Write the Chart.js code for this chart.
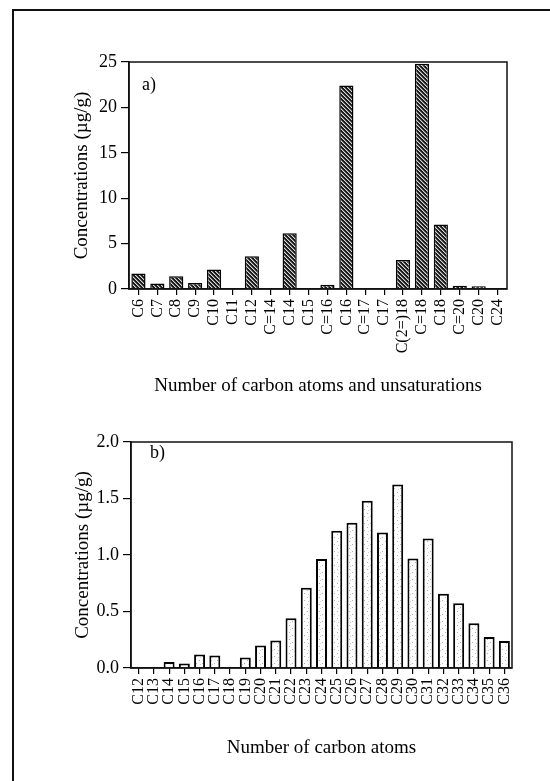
<!DOCTYPE html>
<html>
<head>
<meta charset="utf-8">
<script src="https://cdn.jsdelivr.net/npm/chart.js@4.4.1/dist/chart.umd.min.js"></script>
<style>
  body { margin: 0; background: #fff; }
  #page { position: relative; width: 550px; height: 781px; overflow: hidden; }
  #frame { position: absolute; left: 12px; top: 9px; width: 600px; height: 800px;
           border-left: 2px solid #111; border-top: 2px solid #111; }
  .box { position: absolute; left: 0; width: 550px; }
</style>
</head>
<body>
<div id="page">
  <div id="frame"></div>
  <div class="box" style="top:0;height:400px"><canvas id="chartA" width="550" height="400"></canvas></div>
  <div class="box" style="top:400px;height:381px"><canvas id="chartB" width="550" height="381"></canvas></div>
</div>
<script>
// panel a) fatty acids
const acidLabels = ['C6', 'C7', 'C8', 'C9', 'C10', 'C11', 'C12', 'C=14', 'C14', 'C15', 'C=16', 'C16',
                    'C=17', 'C17', 'C(2=)18', 'C=18', 'C18', 'C=20', 'C20', 'C24'];
const acidValues = [1.7, 0.6, 1.4, 0.65, 2.15, 0, 3.6, 0.1, 6.15, 0.05, 0.48, 22.4,
                    0, 0, 3.2, 24.8, 7.1, 0.35, 0.3, 0];
const acidTicks = [0, 5, 10, 15, 20, 25];

// panel b) n-alkanes
const alkaneLabels = ['C12', 'C13', 'C14', 'C15', 'C16', 'C17', 'C18', 'C19', 'C20', 'C21', 'C22', 'C23', 'C24',
                      'C25', 'C26', 'C27', 'C28', 'C29', 'C30', 'C31', 'C32', 'C33', 'C34', 'C35', 'C36'];
const alkaneValues = [0, 0, 0.053, 0.04, 0.12, 0.11, 0, 0.094, 0.2, 0.244, 0.44, 0.71, 0.965,
                      1.215, 1.285, 1.48, 1.2, 1.625, 0.968, 1.147, 0.656, 0.574, 0.397, 0.274, 0.238];
const alkaneTicks = [0.0, 0.5, 1.0, 1.5, 2.0];

const SERIF = "'Liberation Serif', 'Times New Roman', serif";
Chart.defaults.font.family = SERIF;
Chart.defaults.color = '#000';

function hatchPattern() {
    const c = document.createElement('canvas');
    c.width = 4; c.height = 4;
    const g = c.getContext('2d');
    g.fillStyle = '#1a1a1a';
    g.fillRect(0, 0, 4, 4);
    for (let i = 0; i < 4; i++) {
        g.fillStyle = '#d8d8d8';
        g.fillRect(i, i, 1, 1);
        g.fillStyle = '#666';
        g.fillRect((i + 1) % 4, i, 1, 1);
    }
    return g.createPattern(c, 'repeat');
}

function dotPattern() {
    const c = document.createElement('canvas');
    c.width = 6; c.height = 7;
    const g = c.getContext('2d');
    g.fillStyle = '#fff';
    g.fillRect(0, 0, 6, 7);
    g.fillStyle = '#b0b0b0';
    g.fillRect(1, 1, 1, 1);
    g.fillRect(4, 4, 1, 1);
    g.fillStyle = '#d0d0d0';
    g.fillRect(2, 5, 1, 1);
    return g.createPattern(c, 'repeat');
}

// closes the box round the plot and writes the panel letter
const panelBox = {
    id: 'panelBox',
    afterDraw(chart, args, opts) {
        const { ctx, chartArea: a } = chart;
        ctx.save();
        ctx.strokeStyle = '#111';
        ctx.lineWidth = 1.5;
        ctx.strokeRect(a.left, a.top, a.right - a.left, a.bottom - a.top);
        ctx.font = '18px ' + SERIF;
        ctx.fillStyle = '#000';
        ctx.textBaseline = 'top';
        ctx.fillText(opts.tag, a.left + opts.dx, a.top + opts.dy);
        ctx.restore();
    }
};

function makePanel(id, cfg) {
    const step = cfg.ticks[1] - cfg.ticks[0];
    return new Chart(document.getElementById(id), {
        type: 'bar',
        data: {
            labels: cfg.labels,
            datasets: [{
                data: cfg.values,
                backgroundColor: cfg.fill,
                borderColor: '#000',
                borderWidth: cfg.border,
                barPercentage: cfg.barPct,
                categoryPercentage: 1
            }]
        },
        plugins: [panelBox],
        options: {
            responsive: false,
            animation: false,
            layout: { padding: cfg.pad },
            plugins: {
                legend: { display: false },
                tooltip: { enabled: false },
                panelBox: cfg.tag
            },
            scales: {
                x: {
                    grid: { display: true, drawOnChartArea: false, offset: false, tickLength: 6, color: '#000', lineWidth: 1.2 },
                    border: { display: true, color: '#111', width: 1.5 },
                    ticks: { autoSkip: false, minRotation: 90, maxRotation: 90, padding: 4, font: { size: 16 } },
                    // bottom titles are offset from the scale bottom by padding.bottom
                    title: { display: true, text: cfg.xTitle, font: { size: 19 }, padding: { top: 0, bottom: cfg.xTitlePad } },
                    afterFit: s => { s.height = cfg.xHeight; }
                },
                y: {
                    min: cfg.ticks[0],
                    max: cfg.ticks[cfg.ticks.length - 1],
                    grid: { display: true, drawOnChartArea: false, tickLength: 8, color: '#000', lineWidth: 1.2 },
                    border: { display: true, color: '#111', width: 1.5 },
                    ticks: { stepSize: step, padding: 4, font: { size: 18 }, callback: v => v.toFixed(cfg.decimals) },
                    title: { display: true, text: 'Concentrations (µg/g)', font: { size: 19 }, padding: { top: cfg.yTitlePad } },
                    afterFit: s => { s.width = cfg.yWidth; }
                }
            }
        }
    });
}

makePanel('chartA', {
    labels: acidLabels, values: acidValues, ticks: acidTicks, decimals: 0,
    fill: hatchPattern(), border: 1.5, barPct: 0.75,
    pad: { left: 0, right: 43, top: 62, bottom: 0 },
    yWidth: 129, xHeight: 111, xTitlePad: 2.6, yTitlePad: 71,
    xTitle: 'Number of carbon atoms and unsaturations',
    tag: { tag: 'a)', dx: 13, dy: 14 }
});

makePanel('chartB', {
    labels: alkaneLabels, values: alkaneValues, ticks: alkaneTicks, decimals: 1,
    fill: dotPattern(), border: 2, barPct: 0.72,
    pad: { left: 0, right: 38, top: 42, bottom: 0 },
    yWidth: 131, xHeight: 113, xTitlePad: 21.6, yTitlePad: 72,
    xTitle: 'Number of carbon atoms',
    tag: { tag: 'b)', dx: 19, dy: 2 }
});
</script>
</body>
</html>
